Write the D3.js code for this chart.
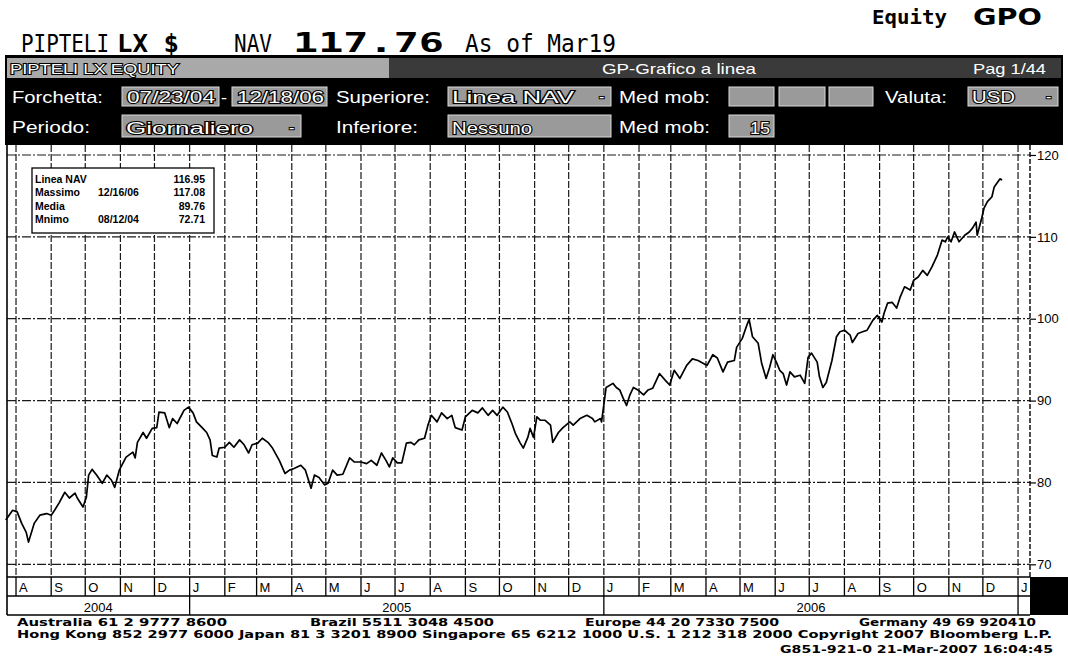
<!DOCTYPE html>
<html><head><meta charset="utf-8">
<script src="https://cdn.jsdelivr.net/npm/d3@7/dist/d3.min.js"></script>
<style>
html,body{margin:0;padding:0;background:#fff;}
svg{display:block;}
.ol{paint-order:stroke;stroke:#000;stroke-width:2px;fill:#fff;}
</style></head>
<body>
<svg id="c" width="1068" height="656"></svg>
<script>
// ---------------- DATA ----------------
const dates = ["2004-07-23","2004-07-29","2004-08-02","2004-08-06","2004-08-10","2004-08-12","2004-08-17","2004-08-22","2004-08-28","2004-09-01","2004-09-04","2004-09-08","2004-09-13","2004-09-17","2004-09-22","2004-09-24","2004-09-29","2004-10-02","2004-10-04","2004-10-07","2004-10-11","2004-10-16","2004-10-20","2004-10-24","2004-10-27","2004-10-31","2004-11-06","2004-11-12","2004-11-14","2004-11-16","2004-11-21","2004-11-24","2004-11-29","2004-12-03","2004-12-05","2004-12-10","2004-12-14","2004-12-17","2004-12-21","2004-12-27","2004-12-31","2005-01-04","2005-01-07","2005-01-12","2005-01-16","2005-01-19","2005-01-21","2005-01-25","2005-01-27","2005-02-01","2005-02-05","2005-02-09","2005-02-14","2005-02-18","2005-02-22","2005-02-25","2005-03-02","2005-03-06","2005-03-11","2005-03-15","2005-03-21","2005-03-26","2005-03-30","2005-04-03","2005-04-09","2005-04-13","2005-04-18","2005-04-21","2005-04-25","2005-04-30","2005-05-03","2005-05-07","2005-05-11","2005-05-16","2005-05-22","2005-05-26","2005-06-01","2005-06-06","2005-06-10","2005-06-15","2005-06-19","2005-06-23","2005-06-26","2005-06-29","2005-07-03","2005-07-07","2005-07-11","2005-07-15","2005-07-18","2005-07-22","2005-07-27","2005-07-30","2005-08-02","2005-08-07","2005-08-11","2005-08-16","2005-08-20","2005-08-23","2005-08-29","2005-09-01","2005-09-07","2005-09-12","2005-09-16","2005-09-21","2005-09-25","2005-09-29","2005-10-04","2005-10-08","2005-10-12","2005-10-15","2005-10-19","2005-10-22","2005-10-26","2005-10-28","2005-10-31","2005-11-03","2005-11-06","2005-11-10","2005-11-15","2005-11-17","2005-11-22","2005-11-26","2005-12-02","2005-12-05","2005-12-11","2005-12-17","2005-12-22","2005-12-24","2005-12-29","2005-12-30","2006-01-03","2006-01-09","2006-01-12","2006-01-15","2006-01-18","2006-01-21","2006-01-24","2006-01-27","2006-01-31","2006-02-05","2006-02-09","2006-02-13","2006-02-19","2006-02-24","2006-02-28","2006-03-04","2006-03-09","2006-03-15","2006-03-20","2006-03-25","2006-04-02","2006-04-07","2006-04-11","2006-04-16","2006-04-20","2006-04-26","2006-04-28","2006-05-03","2006-05-07","2006-05-09","2006-05-12","2006-05-17","2006-05-20","2006-05-24","2006-05-27","2006-05-30","2006-06-02","2006-06-05","2006-06-08","2006-06-11","2006-06-14","2006-06-18","2006-06-23","2006-06-27","2006-06-30","2006-07-03","2006-07-08","2006-07-10","2006-07-13","2006-07-16","2006-07-21","2006-07-25","2006-07-28","2006-08-01","2006-08-06","2006-08-08","2006-08-13","2006-08-17","2006-08-21","2006-08-26","2006-08-30","2006-09-03","2006-09-05","2006-09-08","2006-09-12","2006-09-16","2006-09-19","2006-09-23","2006-09-28","2006-10-01","2006-10-05","2006-10-09","2006-10-13","2006-10-17","2006-10-20","2006-10-22","2006-10-26","2006-10-29","2006-10-31","2006-11-03","2006-11-06","2006-11-10","2006-11-15","2006-11-19","2006-11-22","2006-11-25","2006-11-26","2006-11-30","2006-12-02","2006-12-05","2006-12-09","2006-12-11","2006-12-16","2006-12-18"];
const navValues = [75.4,76.6,76.4,75.0,73.9,72.71,75.0,76.0,76.2,76.0,76.6,77.5,78.8,78.1,78.7,78.1,77.0,78.2,80.9,81.6,80.9,79.9,80.9,80.3,79.4,81.5,83.1,83.7,83.0,84.9,86.1,85.4,86.6,86.7,88.6,88.5,86.7,87.8,87.2,88.8,89.2,88.5,87.4,86.7,86.1,85.2,83.3,83.1,84.2,84.3,84.9,84.3,85.2,84.6,83.6,84.6,84.8,85.4,84.9,84.2,82.7,81.1,81.5,81.7,82.1,81.5,79.3,80.9,80.6,79.7,79.9,81.5,80.9,81.0,83.0,82.5,82.5,82.3,82.7,82.1,83.6,82.7,81.9,83.0,82.4,82.4,84.8,84.9,84.6,85.2,85.4,87.0,88.2,87.4,88.5,87.8,88.2,86.7,86.4,88.0,88.8,88.5,89.1,88.2,88.8,88.2,89.2,88.6,87.2,86.0,84.9,84.2,85.5,86.6,85.5,88.0,87.6,87.6,87.0,84.9,86.1,86.7,87.4,87.0,87.8,88.2,87.8,87.4,87.8,87.4,91.6,92.1,91.6,91.3,90.3,89.4,90.7,91.6,91.3,90.7,91.3,91.5,93.3,92.5,91.9,93.7,92.7,94.3,95.1,94.9,94.3,95.6,95.2,93.5,94.7,94.9,96.5,97.6,99.2,99.9,97.8,97.0,94.6,92.7,94.0,95.6,94.7,93.7,93.3,91.9,93.5,92.9,93.1,92.1,95.3,95.8,94.7,92.9,91.6,92.2,94.9,97.8,98.4,98.6,98.0,97.1,98.2,98.4,98.6,99.8,100.4,99.6,100.7,101.9,102.0,101.3,102.6,103.9,103.5,104.7,105.1,105.9,105.3,106.3,107.2,107.8,109.6,109.4,110.0,109.4,110.6,109.4,110.2,110.6,111.1,111.8,110.2,112.3,113.5,114.3,114.9,116.1,117.08,116.95];

const rangeStart = "2004-07-23";
const rangeEnd = "2007-01-11";
const yTicks = [70, 80, 90, 100, 110, 120];
const monthInitials = ["J","F","M","A","M","J","J","A","S","O","N","D"];
const legendLabels = ["Linea NAV", "Massimo", "Media", "Mnimo"];
const legendDates = ["", "12/16/06", "", "08/12/04"];
const legendValues = ["116.95", "117.08", "89.76", "72.71"];
const footerLine1 = ["Australia 61 2 9777 8600", "Brazil 5511 3048 4500", "Europe 44 20 7330 7500", "Germany 49 69 920410"];
const footerLine2 = "Hong Kong 852 2977 6000 Japan 81 3 3201 8900 Singapore 65 6212 1000 U.S. 1 212 318 2000 Copyright 2007 Bloomberg L.P.";
const footerLine3 = "G851-921-0 21-Mar-2007 16:04:45";

// ---------------- SETUP ----------------
const parse = d3.utcParse("%Y-%m-%d");
const data = dates.map((d, i) => ({date: parse(d), v: navValues[i]}));
const svg = d3.select("#c");
const W = 1068, H = 656;
const plot = {left: 7, right: 1030, top: 145, bottom: 577};

const x = d3.scaleUtc().domain([parse(rangeStart), parse(rangeEnd)]).range([5.8, 1029.4]);
const y = d3.scaleLinear().domain([68.45, 121.22]).range([plot.bottom, plot.top]);

svg.append("rect").attr("width", W).attr("height", H).attr("fill", "#fff");

// ---------------- TOP TITLE ----------------
const mono = "'DejaVu Sans Mono', 'Liberation Mono', monospace";
function txt(g, s, px, py, o) {
  const t = g.append("text").attr("x", px).attr("y", py).text(s);
  Object.entries(o || {}).forEach(([k, v]) => t.attr(k, v));
  return t;
}
txt(svg, "Equity", 872, 24, {"font-family": mono, "font-size": 20, "font-weight": "bold", "textLength": 75, "lengthAdjust": "spacingAndGlyphs"});
txt(svg, "GPO", 973, 25, {"font-family": "'DejaVu Sans', sans-serif", "font-size": 23, "font-weight": "bold", "textLength": 69, "lengthAdjust": "spacingAndGlyphs"});
txt(svg, "PIPTELI", 21, 52, {"font-family": mono, "font-size": 24, "textLength": 88, "lengthAdjust": "spacingAndGlyphs"});
txt(svg, "LX $", 117, 52, {"font-family": mono, "font-size": 24, "font-weight": "bold", "textLength": 62, "lengthAdjust": "spacingAndGlyphs"});
txt(svg, "NAV", 234, 52, {"font-family": mono, "font-size": 24, "textLength": 38, "lengthAdjust": "spacingAndGlyphs"});
txt(svg, "117.76", 293, 52, {"font-family": mono, "font-size": 27, "font-weight": "bold", "textLength": 151, "lengthAdjust": "spacingAndGlyphs"});
txt(svg, "As of Mar19", 465, 52, {"font-family": mono, "font-size": 24, "textLength": 151, "lengthAdjust": "spacingAndGlyphs"});

// ---------------- HEADER BAND ----------------
const sans = "'Liberation Sans', Arial, sans-serif";
const hb = svg.append("g");
hb.append("rect").attr("x", 5).attr("y", 55).attr("width", 1058).attr("height", 90).attr("fill", "#000");
hb.append("rect").attr("x", 7).attr("y", 58).attr("width", 382).attr("height", 20).attr("fill", "#a9a9a9");
hb.append("rect").attr("x", 389).attr("y", 58).attr("width", 672).attr("height", 20).attr("fill", "#3a3a3a");
txt(hb, "PIPTELI LX EQUITY", 10, 74, {"class": "ol", "font-family": sans, "font-size": 15, "textLength": 169, "lengthAdjust": "spacingAndGlyphs"});
txt(hb, "GP-Grafico a linea", 602, 74, {"fill": "#fff", "font-family": sans, "font-size": 15, "textLength": 154, "lengthAdjust": "spacingAndGlyphs"});
txt(hb, "Pag 1/44", 973, 74, {"fill": "#fff", "font-family": sans, "font-size": 15, "textLength": 73, "lengthAdjust": "spacingAndGlyphs"});

function box(x0, x1, y0, y1, label, lx, lw, drop) {
  hb.append("rect").attr("x", x0).attr("y", y0).attr("width", x1 - x0).attr("height", y1 - y0)
    .attr("fill", "#9a9a9a").attr("stroke", "#d8d8d8").attr("stroke-width", 1);
  if (label) txt(hb, label, lx, y1 - 3, {"class": "ol", "font-family": sans, "font-size": 16, "textLength": lw, "lengthAdjust": "spacingAndGlyphs"});
  if (drop) txt(hb, "-", x1 - 12, y1 - 4, {"class": "ol", "font-family": sans, "font-size": 16});
}
function lab(s, lx, ly, lw) {
  txt(hb, s, lx, ly, {"fill": "#fff", "font-family": sans, "font-size": 17, "textLength": lw, "lengthAdjust": "spacingAndGlyphs"});
}
// row 2
lab("Forchetta:", 12, 103, 91);
box(122, 219, 87, 106, "07/23/04", 127, 88);
lab("-", 221, 103, 6);
box(232, 327, 87, 106, "12/18/06", 237, 87);
lab("Superiore:", 336, 103, 94);
box(448, 611, 87, 106, "Linea NAV", 452, 122, true);
lab("Med mob:", 619, 103, 91);
box(729, 774, 87, 106);
box(779, 825, 87, 106);
box(829, 873, 87, 106);
lab("Valuta:", 885, 103, 62);
box(968, 1058, 87, 106, "USD", 972, 43, true);
// row 3
lab("Periodo:", 12, 133, 78);
box(122, 301, 115, 137, "Giornaliero", 126, 127, true);
lab("Inferiore:", 336, 133, 82);
box(448, 611, 115, 137, "Nessuno", 452, 80);
lab("Med mob:", 619, 133, 91);
box(729, 774, 115, 137, "15", 750, 20);

// ---------------- PLOT ----------------
const g = svg.append("g");
const months = d3.utcMonth.range(d3.utcMonth.ceil(x.domain()[0]), x.domain()[1]);
// vertical month grid
g.selectAll("line.vg").data(months).join("line")
  .attr("x1", d => x(d)).attr("x2", d => x(d))
  .attr("y1", plot.top).attr("y2", plot.bottom)
  .attr("stroke", "#1a1a1a").attr("stroke-width", 1.2).attr("stroke-dasharray", "7,2");
// horizontal grid
g.selectAll("line.hg").data(yTicks).join("line")
  .attr("x1", plot.left).attr("x2", plot.right)
  .attr("y1", d => y(d)).attr("y2", d => y(d))
  .attr("stroke", "#1a1a1a").attr("stroke-width", 1.2).attr("stroke-dasharray", "9,2,2,2");
// frame
g.append("line").attr("x1", plot.left).attr("x2", plot.left).attr("y1", plot.top).attr("y2", plot.bottom + 38)
  .attr("stroke", "#000").attr("stroke-width", 1.6);
g.append("line").attr("x1", plot.right).attr("x2", plot.right).attr("y1", plot.top).attr("y2", plot.bottom)
  .attr("stroke", "#000").attr("stroke-width", 1.4).attr("stroke-dasharray", "5,2");
// right axis
const axis = d3.axisRight(y).tickValues(yTicks).tickSize(6).tickPadding(1);
const ag = svg.append("g").attr("transform", `translate(${plot.right},0)`).call(axis);
ag.select(".domain").remove();
ag.selectAll(".tick line").attr("stroke", "#000").attr("stroke-width", 1.2);
ag.selectAll(".tick text").attr("font-family", sans).attr("font-size", 13).attr("fill", "#000");

// line
const line = d3.line().x(d => x(d.date)).y(d => y(d.v));
g.append("path").datum(data).attr("d", line).attr("fill", "none")
  .attr("stroke", "#000").attr("stroke-width", 1.7).attr("stroke-linejoin", "round");

// legend
const lg = svg.append("g");
lg.append("rect").attr("x", 32).attr("y", 168).attr("width", 182).attr("height", 65)
  .attr("fill", "#fff").attr("stroke", "#000").attr("stroke-width", 1.3);
legendLabels.forEach((s, i) => {
  const by = 183 + i * 13.3;
  txt(lg, s, 35, by, {"font-family": sans, "font-size": 10.5, "font-weight": "bold"});
  if (legendDates[i]) txt(lg, legendDates[i], 98, by, {"font-family": sans, "font-size": 10.5, "font-weight": "bold"});
  txt(lg, legendValues[i], 205, by, {"font-family": sans, "font-size": 10.5, "font-weight": "bold", "text-anchor": "end"});
});

// ---------------- TIME AXIS ROWS ----------------
const ax = svg.append("g");
const rowTop = plot.bottom, rowMid = 596, rowBot = 615;
[rowTop, rowMid, rowBot].forEach(yy => ax.append("line").attr("x1", plot.left).attr("x2", plot.right)
  .attr("y1", yy).attr("y2", yy).attr("stroke", "#000").attr("stroke-width", 1.6));
ax.selectAll("line.ms").data(months).join("line")
  .attr("x1", d => x(d)).attr("x2", d => x(d)).attr("y1", rowTop).attr("y2", rowMid)
  .attr("stroke", "#000").attr("stroke-width", 1.3);
ax.selectAll("text.ml").data(months).join("text")
  .attr("x", d => x(d) + 3).attr("y", 592)
  .attr("font-family", sans).attr("font-size", 13).text(d => monthInitials[d.getUTCMonth()]);
const yearStarts = d3.utcYear.range(d3.utcYear.ceil(x.domain()[0]), x.domain()[1]);
ax.selectAll("line.ys").data(yearStarts).join("line")
  .attr("x1", d => x(d)).attr("x2", d => x(d)).attr("y1", rowMid).attr("y2", rowBot)
  .attr("stroke", "#000").attr("stroke-width", 1.3);
const yearCells = d3.utcYear.range(d3.utcYear.floor(x.domain()[0]), x.domain()[1]).map(d => {
  const a = Math.max(x(d), plot.left), b = Math.min(x(d3.utcYear.offset(d, 1)), plot.right);
  return {year: d.getUTCFullYear(), a, b};
}).filter(c => c.b - c.a > 40);
ax.selectAll("text.yl").data(yearCells).join("text")
  .attr("x", d => (d.a + d.b) / 2).attr("y", 612).attr("text-anchor", "middle")
  .attr("font-family", sans).attr("font-size", 13).text(d => d.year);
ax.append("rect").attr("x", plot.right).attr("y", rowTop).attr("width", W - plot.right).attr("height", rowBot - rowTop).attr("fill", "#000");

// ---------------- FOOTER ----------------
const ff = "'DejaVu Sans', Verdana, sans-serif";
const fo = {"font-family": ff, "font-size": 10.5, "font-weight": "bold", "lengthAdjust": "spacingAndGlyphs"};
const f1x = [17, 310, 585, 859], f1w = [210, 184, 194, 177];
footerLine1.forEach((s, i) => txt(svg, s, f1x[i], 626, Object.assign({}, fo, {textLength: f1w[i]})));
txt(svg, footerLine2, 17, 638, Object.assign({}, fo, {textLength: 1035}));
txt(svg, footerLine3, 780, 653, Object.assign({}, fo, {textLength: 273}));
</script>
</body></html>
